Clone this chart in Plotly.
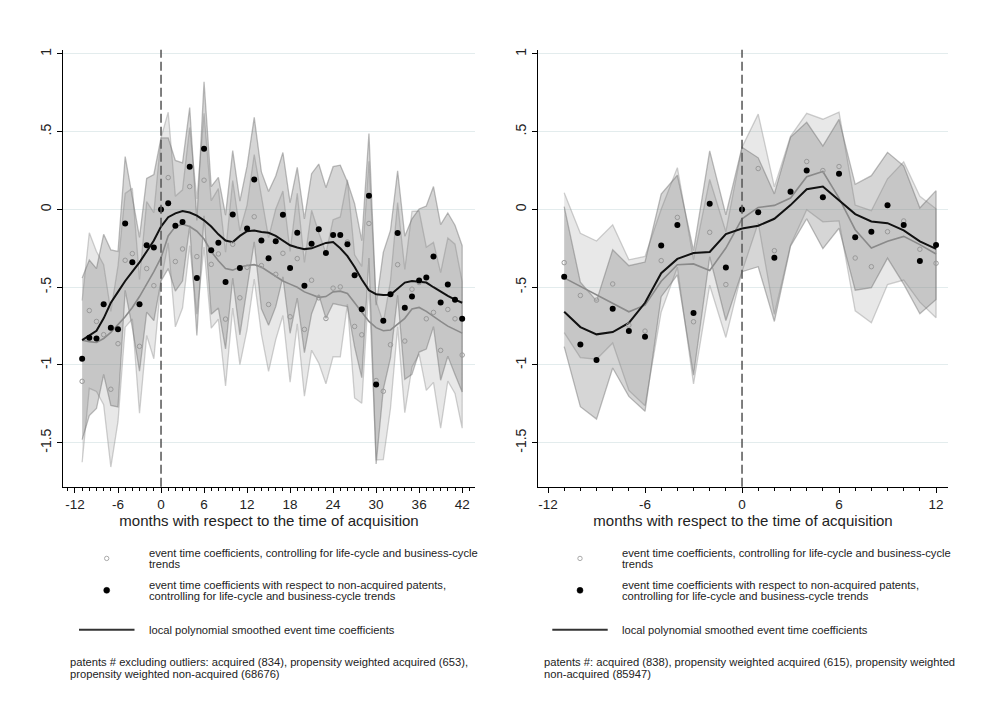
import plotly.graph_objects as go

# ---------------- data: left panel (months -11 .. 42) ----------------
months_left = list(range(-11, 43))
coef_nonacq_left = [-0.96, -0.825, -0.83, -0.61, -0.76, -0.77, -0.09, -0.34, -0.61, -0.23,
                    -0.245, 0.0, 0.04, -0.105, -0.08, 0.275, -0.44, 0.39, -0.263, -0.214,
                    -0.466, -0.032, -0.376, -0.122, 0.192, -0.199, -0.314, -0.205, -0.034, -0.376,
                    -0.15, -0.491, -0.22, -0.128, -0.28, -0.165, -0.165, -0.224, -0.423, -0.641,
                    0.088, -1.126, -0.716, -0.545, -0.152, -0.632, -0.56, -0.457, -0.438, -0.303,
                    -0.598, -0.483, -0.581, -0.703]
coef_left = [-1.105, -0.65, -0.72, -0.805, -1.156, -0.863, -0.327, -0.284, -0.88, -0.38,
             -0.49, 0.0, 0.205, -0.335, -0.254, 0.147, -0.303, 0.188, -0.353, -0.286,
             -0.705, -0.224, -0.568, -0.372, -0.047, -0.361, -0.611, -0.417, -0.282, -0.69,
             -0.316, -0.771, -0.455, -0.568, -0.701, -0.506, -0.498, -0.209, -0.752, -0.806,
             -0.09, -1.10, -1.169, -0.87, -0.355, -0.846, -0.513, -0.47, -0.703, -0.662,
             -0.906, -0.643, -0.703, -0.936]
smooth_nonacq_left = [-0.84, -0.81, -0.78, -0.70, -0.60, -0.53, -0.46, -0.40, -0.34, -0.27,
                      -0.20, -0.11, -0.05, -0.025, -0.01, -0.02, -0.04, -0.07, -0.11, -0.16,
                      -0.20, -0.21, -0.17, -0.14, -0.135, -0.145, -0.15, -0.17, -0.20, -0.23,
                      -0.245, -0.255, -0.25, -0.235, -0.215, -0.21, -0.25, -0.30, -0.37, -0.45,
                      -0.52, -0.545, -0.55, -0.548, -0.51, -0.47, -0.46, -0.465, -0.47, -0.50,
                      -0.53, -0.555, -0.58, -0.60]
smooth_left = [-0.84, -0.85, -0.855, -0.83, -0.79, -0.74, -0.69, -0.63, -0.56, -0.48,
               -0.40, -0.31, -0.17, -0.11, -0.095, -0.11, -0.14, -0.19, -0.27, -0.33,
               -0.38, -0.39, -0.37, -0.36, -0.355, -0.37, -0.40, -0.43, -0.46, -0.48,
               -0.50, -0.53, -0.55, -0.565, -0.56, -0.53, -0.525, -0.54, -0.60, -0.66,
               -0.72, -0.76, -0.78, -0.775, -0.74, -0.70, -0.64, -0.63, -0.655, -0.69,
               -0.72, -0.75, -0.775, -0.795]
ci_half_left = [0.52, 0.50, 0.45, 0.45, 0.50, 0.50, 0.43, 0.42, 0.43, 0.43,
                0.47, 0.46, 0.42, 0.42, 0.38, 0.38, 0.37, 0.43, 0.41, 0.42,
                0.43, 0.41, 0.43, 0.40, 0.40, 0.44, 0.43, 0.42, 0.40, 0.42,
                0.42, 0.43, 0.45, 0.42, 0.42, 0.44, 0.45, 0.40, 0.46, 0.44,
                0.40, 0.51, 0.44, 0.41, 0.40, 0.46, 0.50, 0.46, 0.46, 0.45,
                0.50, 0.46, 0.48, 0.47]

# ---------------- data: right panel (months -11 .. 12) ----------------
months_right = list(range(-11, 13))
coef_nonacq_right = [-0.432, -0.868, -0.968, -0.639, -0.782, -0.818, -0.231, -0.10, -0.665, 0.036,
                     -0.374, 0.0, -0.018, -0.31, 0.114, 0.25, 0.078, 0.229, -0.179, -0.143,
                     0.027, -0.10, -0.331, -0.229]
coef_right = [-0.342, -0.553, -0.583, -0.479, -0.744, -0.782, -0.329, -0.051, -0.722, -0.147,
              -0.483, 0.0, 0.263, -0.265, 0.12, 0.308, 0.25, 0.276, -0.312, -0.368,
              -0.143, -0.074, -0.256, -0.346]
smooth_nonacq_right = [-0.658, -0.756, -0.803, -0.788, -0.73, -0.60, -0.41, -0.318, -0.28, -0.273,
                       -0.158, -0.123, -0.105, -0.06, 0.028, 0.13, 0.147, 0.058, -0.03, -0.077,
                       -0.088, -0.135, -0.205, -0.254]
smooth_right = [-0.44, -0.494, -0.547, -0.60, -0.658, -0.615, -0.462, -0.355, -0.35, -0.393,
                -0.248, -0.06, 0.013, 0.026, 0.073, 0.21, 0.244, 0.073, -0.13, -0.248,
                -0.205, -0.173, -0.226, -0.286]
ci_half_right = [0.45, 0.40, 0.38, 0.38, 0.42, 0.48, 0.33, 0.32, 0.40, 0.34,
                 0.34, 0.40, 0.35, 0.41, 0.35, 0.31, 0.33, 0.35, 0.34, 0.36,
                 0.34, 0.38, 0.34, 0.35]

# ---------------- ticks / texts ----------------
y_tickvals = [-1.5, -1, -0.5, 0, 0.5, 1]
y_ticktext = ["-1.5", "-1", "-.5", "0", ".5", "1"]
x_tickvals_left = [-12, -6, 0, 6, 12, 18, 24, 30, 36, 42]
x_tickvals_right = [-12, -6, 0, 6, 12]
x_title = "months with respect to the time of acquisition"
leg_item1 = ["event time coefficients, controlling for life-cycle and business-cycle", "trends"]
leg_item2 = ["event time coefficients with respect to non-acquired patents,",
             "controlling for life-cycle and business-cycle trends"]
leg_item3 = "local polynomial smoothed event time coefficients"
note_left = ["patents # excluding outliers: acquired (834), propensity weighted acquired (653),",
             "propensity weighted non-acquired (68676)"]
note_right = ["patents #: acquired (838), propensity weighted acquired (615), propensity weighted",
              "non-acquired (85947)"]

W, H = 985, 709
FONT = "Liberation Sans, Arial, sans-serif"

fig = go.Figure()


def band(months, coef, half, xa, ya, fill, edge):
    up = [c + h for c, h in zip(coef, half)]
    lo = [c - h for c, h in zip(coef, half)]
    fig.add_trace(go.Scatter(x=months + months[::-1], y=up + lo[::-1], fill="toself",
                             fillcolor=fill, line=dict(color=edge, width=1.3),
                             mode="lines", xaxis=xa, yaxis=ya, hoverinfo="skip",
                             showlegend=False))


def panel(months, cb, cg, sb, sg, half, xa, ya):
    band(months, cg, half, xa, ya, "rgba(165,165,165,0.26)", "rgba(150,150,150,0.45)")
    band(months, cb, half, xa, ya, "rgba(120,120,120,0.30)", "rgba(110,110,110,0.45)")
    fig.add_trace(go.Scatter(x=months, y=sg, mode="lines", line=dict(color="#8a8a8a", width=1.6),
                             xaxis=xa, yaxis=ya, showlegend=False))
    fig.add_trace(go.Scatter(x=months, y=sb, mode="lines", line=dict(color="#111111", width=2),
                             xaxis=xa, yaxis=ya, showlegend=False))
    fig.add_trace(go.Scatter(x=months, y=cg, mode="markers",
                             marker=dict(size=4.5, color="rgba(0,0,0,0)",
                                         line=dict(color="#999999", width=1)),
                             xaxis=xa, yaxis=ya, showlegend=False))
    fig.add_trace(go.Scatter(x=months, y=cb, mode="markers",
                             marker=dict(size=6, color="#000000"),
                             xaxis=xa, yaxis=ya, showlegend=False))


panel(months_left, coef_nonacq_left, coef_left, smooth_nonacq_left, smooth_left, ci_half_left, "x", "y")
panel(months_right, coef_nonacq_right, coef_right, smooth_nonacq_right, smooth_right, ci_half_right, "x2", "y2")

ydom = [(H - 486) / H, (H - 48) / H]
yrange = [-1.782, 1.026]

yax = dict(range=yrange, domain=ydom, tickvals=y_tickvals, ticktext=y_ticktext, tickangle=-90,
           showline=True, linecolor="#000", linewidth=1, ticks="outside", ticklen=5,
           tickcolor="#000", showgrid=True, gridcolor="#e3eced", gridwidth=1, zeroline=False,
           tickfont=dict(size=14, color="#222", family=FONT))


def xax(dom, rng, tv):
    return dict(domain=dom, range=rng, tickvals=tv, ticktext=[str(v) for v in tv],
                showline=True, linecolor="#000", linewidth=1, ticks="outside", ticklen=5,
                tickcolor="#000", showgrid=False, zeroline=False,
                minor=dict(ticks="outside", ticklen=3, dtick=1, tick0=0, tickcolor="#000", showgrid=False),
                tickfont=dict(size=13.5, color="#222", family=FONT),
                title=dict(text=x_title, font=dict(size=15, color="#222", family=FONT), standoff=1))


fig.update_layout(
    width=W, height=H, margin=dict(l=0, r=0, t=0, b=0),
    paper_bgcolor="white", plot_bgcolor="white", showlegend=False,
    font=dict(family=FONT, color="#222"),
    xaxis=dict(anchor="y", **xax([63 / W, 475 / W], [-13.67, 43.79], x_tickvals_left)),
    yaxis=dict(anchor="x", **yax),
    xaxis2=dict(anchor="y2", **xax([538 / W, 948 / W], [-12.62, 12.74], x_tickvals_right)),
    yaxis2=dict(anchor="x2", **yax),
)

# dashed reference line at acquisition month
for xr, yr in (("x", "y domain"), ("x2", "y2 domain")):
    fig.add_shape(type="line", xref=xr, yref=yr, x0=0, x1=0, y0=0, y1=1,
                  line=dict(color="#555555", width=1.5, dash="9px,4px"))


def px(x):
    return x / W


def py(y):
    return 1 - y / H


def text(x, y, s):
    fig.add_annotation(x=px(x), y=py(y), xref="paper", yref="paper", text=s, showarrow=False,
                       xanchor="left", yanchor="middle", align="left",
                       font=dict(size=11.2, color="#222", family=FONT))


def legend_block(mx, lx0, lx1, tx, nx, note):
    r1, r2 = 2.2, 3.0
    fig.add_shape(type="circle", xref="paper", yref="paper",
                  x0=px(mx - r1), x1=px(mx + r1), y0=py(558 + r1), y1=py(558 - r1),
                  line=dict(color="#aaaaaa", width=1), fillcolor="white")
    fig.add_shape(type="circle", xref="paper", yref="paper",
                  x0=px(mx - r2), x1=px(mx + r2), y0=py(590 + r2), y1=py(590 - r2),
                  line=dict(color="#000", width=0.5), fillcolor="#000")
    fig.add_shape(type="line", xref="paper", yref="paper",
                  x0=px(lx0), x1=px(lx1), y0=py(629.5), y1=py(629.5),
                  line=dict(color="#333", width=2))
    text(tx, 552.5, leg_item1[0])
    text(tx, 563.5, leg_item1[1])
    text(tx, 584.5, leg_item2[0])
    text(tx, 595.5, leg_item2[1])
    text(tx, 629.5, leg_item3)
    text(nx, 662, note[0])
    text(nx, 674, note[1])


legend_block(106.7, 79, 134.5, 146.7, 67.7, note_left)
legend_block(580, 552.3, 607.7, 620, 541.7, note_right)

fig.write_html("out.html")
